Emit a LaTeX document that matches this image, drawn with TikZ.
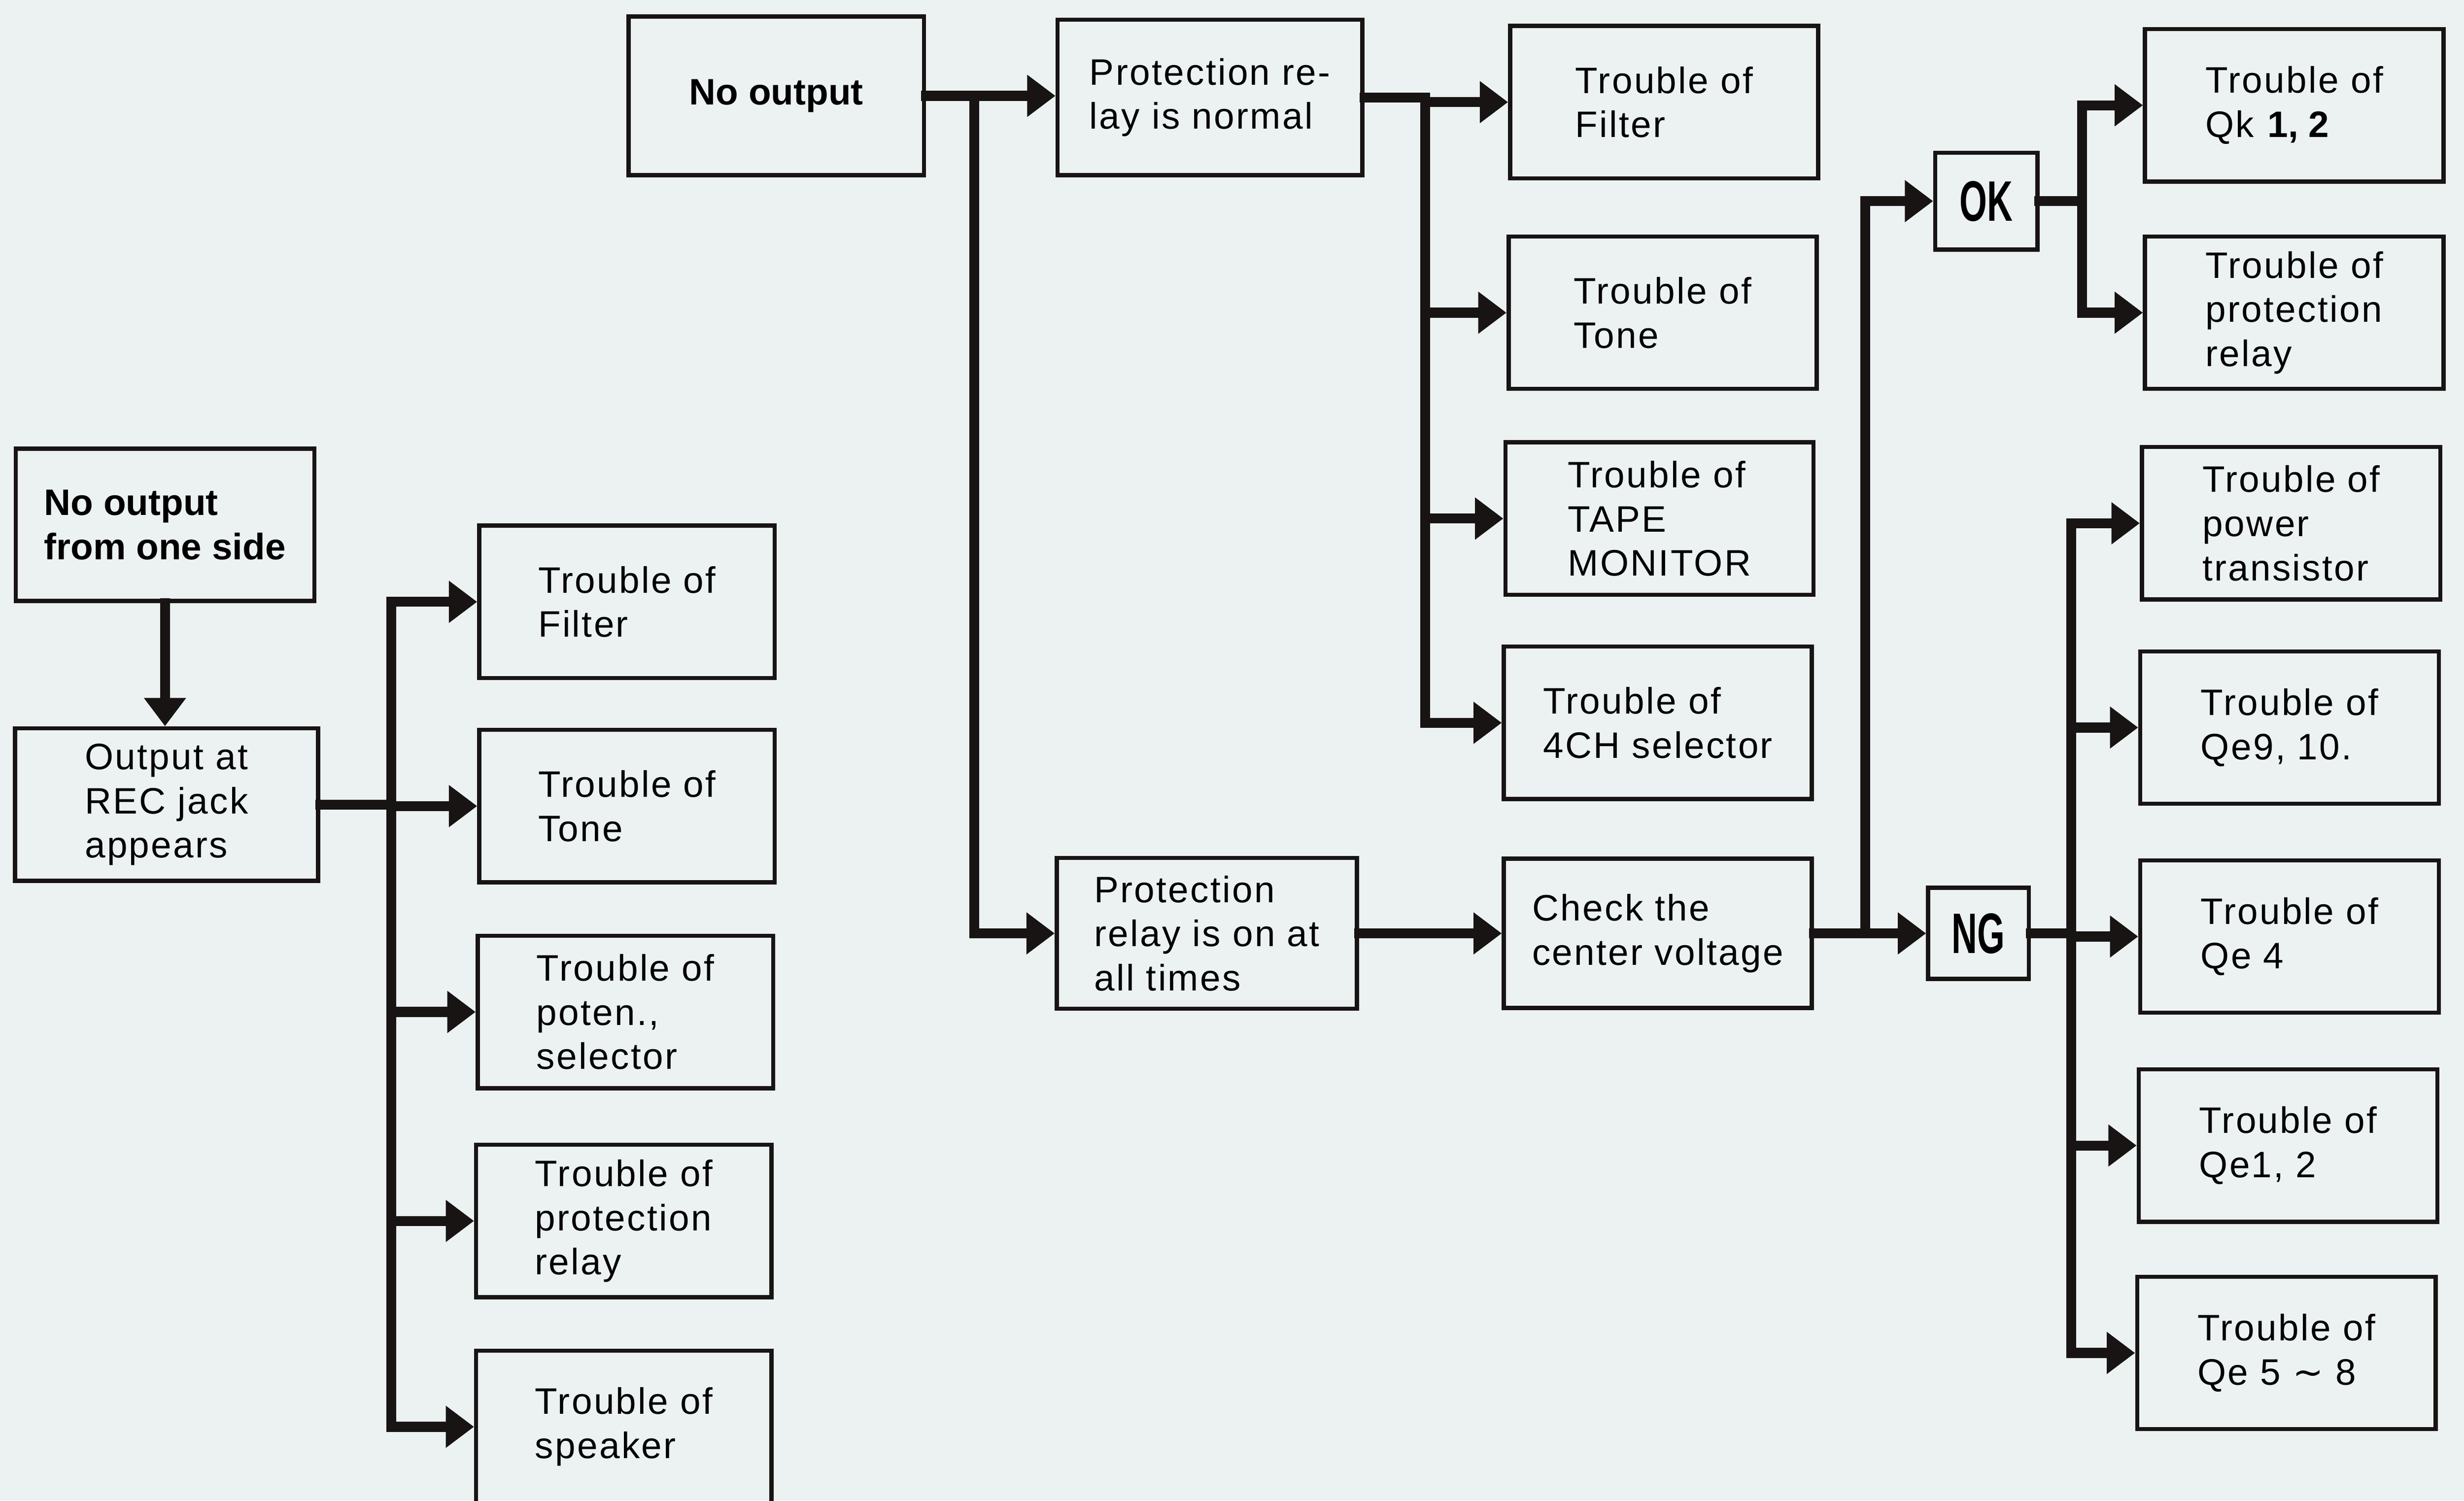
\documentclass[tikz,border=0pt]{standalone}
\usepackage{fontspec}
\setmainfont{Liberation Sans}[LetterSpace=4.5, BoldFeatures={LetterSpace=0}]
\newfontfamily\tagfont{Liberation Sans}[FakeStretch=0.62]
\newfontfamily\symfont{DejaVu Sans}
\usetikzlibrary{positioning,arrows.meta}
\definecolor{papercolor}{RGB}{236,242,242}
\definecolor{inkcolor}{RGB}{24,20,20}

\begin{document}
\begin{tikzpicture}[
		x=0.03cm, y=-0.03cm,
		% Box styles
		box/.style={rectangle, draw=inkcolor, line width=0.08cm, minimum width=5.7cm, minimum height=2.91cm,
			inner sep=0pt, align=left, font=\fontsize{20}{24}\selectfont},
		bbox/.style={box, font=\fontsize{20}{24}\selectfont\bfseries},
		tag/.style={rectangle, draw=inkcolor, line width=0.08cm, minimum width=1.95cm, minimum height=1.85cm,
			inner sep=0pt, font=\fontsize{31}{31}\selectfont\tagfont\bfseries},
		% Connector styles
		link/.style={draw=inkcolor, line width=0.19cm, line cap=rect, line join=miter},
		arrow/.style={link, -{Triangle[length=0.54cm, width=0.77cm]}}
		]
		
		% Paper
		\fill[papercolor] (0,0) rectangle (1568,955);
		\useasboundingbox (0,0) rectangle (1568,955);
		
		% Left branch: one side
		\node[bbox] (side) at (105,334) {No output\\from one side};
		\node[box, minimum width=5.79cm] (rec) at (106,512) {Output at\\REC jack\\appears};
		
		\node[box, minimum width=5.64cm] (lfilter) at (399,383) {Trouble of\\Filter};
		\node[box, minimum width=5.64cm] (ltone) at (399,513) {Trouble of\\Tone};
		\node[box, minimum width=5.64cm] (lpot) at (398,644) {Trouble of\\poten.,\\selector};
		\node[box, minimum width=5.64cm] (lrelay) at (397,777) {Trouble of\\protection\\relay};
		\node[box, minimum width=5.64cm] (lspeaker) at (397,908) {Trouble of\\speaker};
		
		% Upper branch: no output
		\node[bbox, minimum width=5.64cm, minimum height=3.03cm] (noout) at (494,61) {No output};
		\node[box, minimum width=5.82cm, minimum height=2.97cm] (normal) at (770,62) {Protection re-\\lay is normal};
		
		\node[box, minimum width=5.88cm] (mfilter) at (1059,65) {Trouble of\\Filter};
		\node[box, minimum width=5.88cm] (mtone) at (1058,199) {Trouble of\\Tone};
		\node[box, minimum width=5.88cm] (mtape) at (1056,330) {Trouble of\\TAPE\\MONITOR};
		\node[box, minimum width=5.88cm] (mch) at (1055,460) {Trouble of\\4CH selector};
		
		% Lower branch: relay always on
		\node[box, minimum width=5.73cm, minimum height=2.88cm] (always) at (768,594) {Protection\\relay is on at\\all times};
		\node[box, minimum width=5.88cm, minimum height=2.85cm] (check) at (1055,594) {Check the\\center voltage};
		
		\node[tag, minimum width=1.92cm, minimum height=1.74cm] (ng) at (1259,594) {NG};
		\node[tag] (ok) at (1264,128) {OK};
		
		% Results of OK
		\node[box] (qk) at (1460,67) {Trouble of\\Qk \textbf{1, 2}};
		\node[box] (rrelay) at (1460,199) {Trouble of\\protection\\relay};
		
		% Results of NG
		\node[box] (power) at (1458,333) {Trouble of\\power\\transistor};
		\node[box] (qnine) at (1457,463) {Trouble of\\Qe9, 10.};
		\node[box] (qfour) at (1457,596) {Trouble of\\Qe 4};
		\node[box] (qone) at (1456,729) {Trouble of\\Qe1, 2};
		\node[box] (qfive) at (1455,861) {Trouble of\\Qe 5 {\symfont ∼} 8};
		
		% Bus points
		\coordinate (lbus) at (249,512);
		\coordinate (mbus) at (620,61);
		\coordinate (nbus) at (907,62);
		\coordinate (cbus) at (1187,594);
		\coordinate (okbus) at (1325,128);
		\coordinate (ngbus) at (1318,594);
		
		% Arrows - left branch
		\draw[arrow] (side) -- (side |- rec.north);
		\draw[link] (rec) -- (lbus);
		\draw[link] (lbus |- lfilter) -- (lbus |- lspeaker);
		\foreach \n in {lfilter,ltone,lpot,lrelay,lspeaker}
			\draw[arrow] (lbus |- \n) -- (\n);
		
		% Arrows - upper branch
		\draw[arrow] (noout) -- (normal.west |- noout);
		\draw[arrow] (mbus) |- (always);
		\draw[link] (normal) -- (nbus);
		\draw[link] (nbus) -- (nbus |- mch);
		\foreach \n in {mfilter,mtone,mtape,mch}
			\draw[arrow] (nbus |- \n) -- (\n);
		
		% Arrows - lower branch
		\draw[arrow] (always) -- (check);
		\draw[arrow] (check) -- (ng);
		\draw[arrow] (cbus) |- (ok);
		
		% Arrows - OK and NG
		\draw[link] (ok) -- (okbus);
		\draw[link] (okbus |- qk) -- (okbus |- rrelay);
		\foreach \n in {qk,rrelay}
			\draw[arrow] (okbus |- \n) -- (\n);
		\draw[link] (ng) -- (ngbus);
		\draw[link] (ngbus |- power) -- (ngbus |- qfive);
		\foreach \n in {power,qnine,qfour,qone,qfive}
			\draw[arrow] (ngbus |- \n) -- (\n);
		
	\end{tikzpicture}
\end{document}
